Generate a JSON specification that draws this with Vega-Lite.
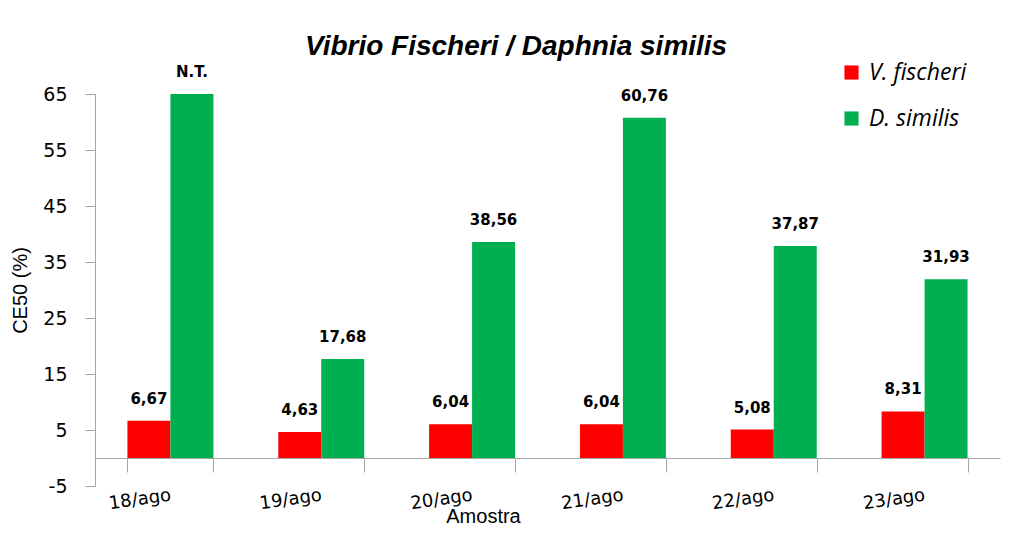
{
  "$schema": "https://vega.github.io/schema/vega-lite/v6.json",
  "autosize": {"type": "none"},
  "padding": {"left": 95, "top": 94, "right": 10, "bottom": 50},
  "width": 905,
  "height": 392,
  "background": "white",
  "title": {
    "text": "Vibrio Fischeri / Daphnia similis",
    "font": "Liberation Sans",
    "fontSize": 28,
    "fontStyle": "italic",
    "fontWeight": "bold",
    "color": "#000000",
    "anchor": "start",
    "dx": 295,
    "offset": 0
  },
  "data": {
    "values": [
      {"amostra": "18/ago", "serie": "V. fischeri", "valor": 6.67, "rotulo": "6,67"},
      {"amostra": "18/ago", "serie": "D. similis", "valor": 65, "rotulo": "N.T."},
      {"amostra": "19/ago", "serie": "V. fischeri", "valor": 4.63, "rotulo": "4,63"},
      {"amostra": "19/ago", "serie": "D. similis", "valor": 17.68, "rotulo": "17,68"},
      {"amostra": "20/ago", "serie": "V. fischeri", "valor": 6.04, "rotulo": "6,04"},
      {"amostra": "20/ago", "serie": "D. similis", "valor": 38.56, "rotulo": "38,56"},
      {"amostra": "21/ago", "serie": "V. fischeri", "valor": 6.04, "rotulo": "6,04"},
      {"amostra": "21/ago", "serie": "D. similis", "valor": 60.76, "rotulo": "60,76"},
      {"amostra": "22/ago", "serie": "V. fischeri", "valor": 5.08, "rotulo": "5,08"},
      {"amostra": "22/ago", "serie": "D. similis", "valor": 37.87, "rotulo": "37,87"},
      {"amostra": "23/ago", "serie": "V. fischeri", "valor": 8.31, "rotulo": "8,31"},
      {"amostra": "23/ago", "serie": "D. similis", "valor": 31.93, "rotulo": "31,93"}
    ]
  },
  "encoding": {
    "x": {
      "field": "amostra",
      "type": "nominal",
      "sort": null,
      "scale": {"paddingInner": 0.43, "paddingOuter": 0.215},
      "axis": {
        "title": "Amostra",
        "titleFont": "Liberation Sans",
        "titleFontSize": 20,
        "titleFontWeight": "normal",
        "titleColor": "#000000",
        "titleX": 388,
        "titleY": 48,
        "titleBaseline": "top",
        "offset": -28,
        "labelAngle": -8,
        "labelAlign": "right",
        "labelBaseline": "middle",
        "labelPadding": 23,
        "labelFont": "DejaVu Sans",
        "labelFontSize": 18,
        "labelColor": "#000000",
        "domainColor": "#a6a6a6",
        "tickColor": "#a6a6a6",
        "tickSize": 14,
        "tickBand": "extent"
      }
    },
    "xOffset": {"field": "serie", "type": "nominal", "sort": ["V. fischeri", "D. similis"], "scale": {"paddingInner": 0}},
    "y": {
      "field": "valor",
      "type": "quantitative",
      "scale": {"domain": [-5, 65], "nice": false, "zero": false},
      "axis": {
        "values": [-5, 5, 15, 25, 35, 45, 55, 65],
        "labelExpr": "datum.value + ''",
        "title": "CE50 (%)",
        "titleFont": "Liberation Sans",
        "titleFontSize": 20,
        "titleFontWeight": "normal",
        "titleColor": "#000000",
        "titleAngle": -90,
        "titleX": -75,
        "titleY": 196,
        "titleAlign": "center",
        "titleBaseline": "middle",
        "grid": false,
        "labelFont": "DejaVu Sans",
        "labelFontSize": 19,
        "labelColor": "#000000",
        "labelPadding": 18,
        "tickSize": 10,
        "tickColor": "#a6a6a6",
        "domainColor": "#a6a6a6"
      }
    }
  },
  "layer": [
    {
      "mark": {"type": "bar"},
      "encoding": {
        "color": {
          "field": "serie",
          "type": "nominal",
          "sort": ["V. fischeri", "D. similis"],
          "scale": {"domain": ["V. fischeri", "D. similis"], "range": ["#ff0000", "#00b050"]},
          "legend": {
            "title": null,
            "orient": "none",
            "legendX": 745,
            "legendY": -33,
            "padding": 0,
            "symbolType": "square",
            "symbolSize": 200,
            "symbolStrokeWidth": 0,
            "labelFont": "Open Sans",
            "labelFontStyle": "italic",
            "labelFontSize": 23,
            "labelColor": "#000000",
            "labelOffset": 6,
            "rowPadding": 22
          }
        }
      }
    },
    {
      "mark": {"type": "text", "baseline": "bottom", "dy": -14, "font": "DejaVu Sans", "fontWeight": "bold", "fontSize": 15, "color": "#000000"},
      "encoding": {"text": {"field": "rotulo"}}
    }
  ],
  "config": {"view": {"stroke": null}}
}
